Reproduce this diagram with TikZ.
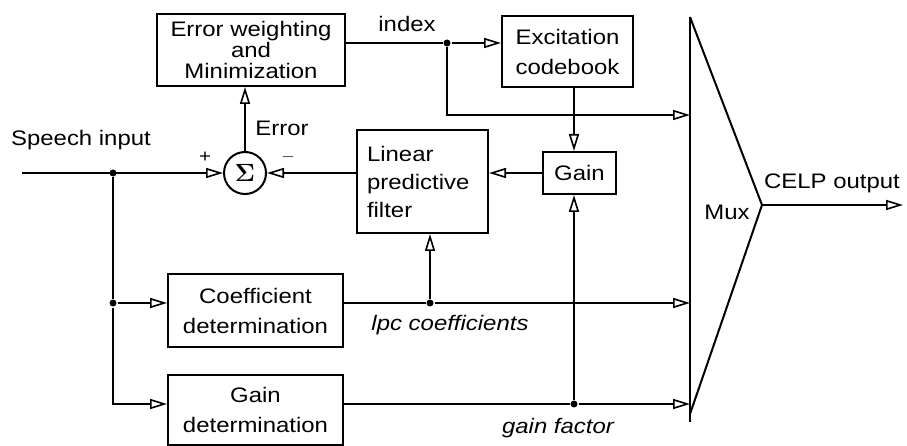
\documentclass[tikz,border=0pt]{standalone}
\usepackage{fontspec}
\setmainfont{Liberation Sans}[FakeStretch=1.14]
\usepackage{amsmath}
\usetikzlibrary{arrows.meta}

\begin{document}
\begin{tikzpicture}[x=1pt,y=-1pt,line width=2pt,
	every node/.style={font=\fontsize{21}{30}\selectfont},
	blk/.style={draw,rectangle,inner sep=0pt,align=center},
	flow/.style={-{Triangle[open,length=17pt,width=10pt,line width=1.6pt]}},
	jdot/.style={circle,fill,inner sep=0pt,minimum size=7pt},
	declare function={
		yIn = 173;
		yIdx = 43;
		yExc = 115;
		yLpc = 303;
		yGf = 404;
		xMux = 690;
	}
	]
	\useasboundingbox (0,0) rectangle (907,446);
	% blocks
	\node[blk,minimum width=188pt,minimum height=72pt,font=\fontsize{21}{21}\selectfont] (ewm) at (251,50) {Error weighting\\and\\Minimization};
	\node[circle,draw,minimum size=42pt,inner sep=0pt,font=\fontsize{24}{24}\selectfont] (sum) at (245,yIn) {$\boldsymbol{\Sigma}$};
	\node[blk,minimum width=131pt,minimum height=103pt,align=left,text width=111pt,font=\fontsize{21}{28}\selectfont] (lpf) at (422.5,181.5) {Linear\\predictive\\filter};
	\node[blk,minimum width=131pt,minimum height=71pt] (exc) at (567.5,51.5) {Excitation\\codebook};
	\node[blk,minimum width=73pt,minimum height=42pt] (gain) at (579.5,yIn) {Gain};
	\node[blk,minimum width=175pt,minimum height=73pt] (cdet) at (255.5,310.5) {Coefficient\\determination};
	\node[blk,minimum width=175pt,minimum height=70pt] (gdet) at (255.5,410) {Gain\\determination};
	% mux
	\coordinate (mtop) at (xMux,17);
	\coordinate (mtip) at (762,205);
	\coordinate (mbot) at (xMux,414);
	\coordinate (mend) at (xMux,422);
	\draw[line join=miter] (mtop) -- (mtip) -- (mbot);
	\draw (mtop) -- (mend);
	% junctions
	\coordinate (in) at (22,yIn);
	\node[jdot] (jin) at (113,yIn) {};
	\node[jdot] (jc) at (113,yLpc) {};
	\node[jdot] (jx) at (447,yIdx) {};
	\node[jdot] (jl) at (430,yLpc) {};
	\node[jdot] (jg) at (574,yGf) {};
	\coordinate (m1) at (xMux,yExc);
	\coordinate (m2) at (xMux,yLpc);
	\coordinate (m3) at (xMux,yGf);
	\coordinate (out) at (903,205);
	% connectors
	\draw[flow] (in) -- (sum.west);
	\draw (jin) -- (jc);
	\draw[flow] (jc) -- (jc -| cdet.west);
	\draw[flow] (jc) |- (gdet.west |- jg);
	\draw[flow] (sum.north) -- (sum.north |- ewm.south);
	\draw (ewm.east |- jx) -- (jx);
	\draw[flow] (jx) -- (jx -| exc.west);
	\draw[flow] (jx) |- (m1);
	\draw[flow] (exc.south -| jg) -- (gain.north -| jg);
	\draw[flow] (gain.west) -- (gain.west -| lpf.east);
	\draw[flow] (lpf.west |- sum) -- (sum.east);
	\draw (cdet.east |- jl) -- (jl);
	\draw[flow] (jl) -- (m2);
	\draw[flow] (jl) -- (jl |- lpf.south);
	\draw (gdet.east |- jg) -- (jg);
	\draw[flow] (jg) -- (m3);
	\draw[flow] (jg) -- (jg |- gain.south);
	\draw[flow] (mtip) -- (out);
	% labels
	\node (lin) at (81,140) {Speech input};
	\node (lidx) at (407,24) {index};
	\node (lerr) at (282,128) {Error};
	\node[font=\fontsize{18}{18}\selectfont] (lplus) at (205,157) {+};
	\node[font=\fontsize{18}{18}\selectfont] (lminus) at (288,157) {$-$};
	\node (lout) at (832,183) {CELP output};
	\node (lmux) at (727,212) {Mux};
	\node[font=\fontsize{21}{30}\selectfont\itshape] (llpc) at (450,325) {lpc coefficients};
	\node[font=\fontsize{21}{30}\selectfont\itshape] (lgf) at (558,428) {gain factor};
\end{tikzpicture}
\end{document}
